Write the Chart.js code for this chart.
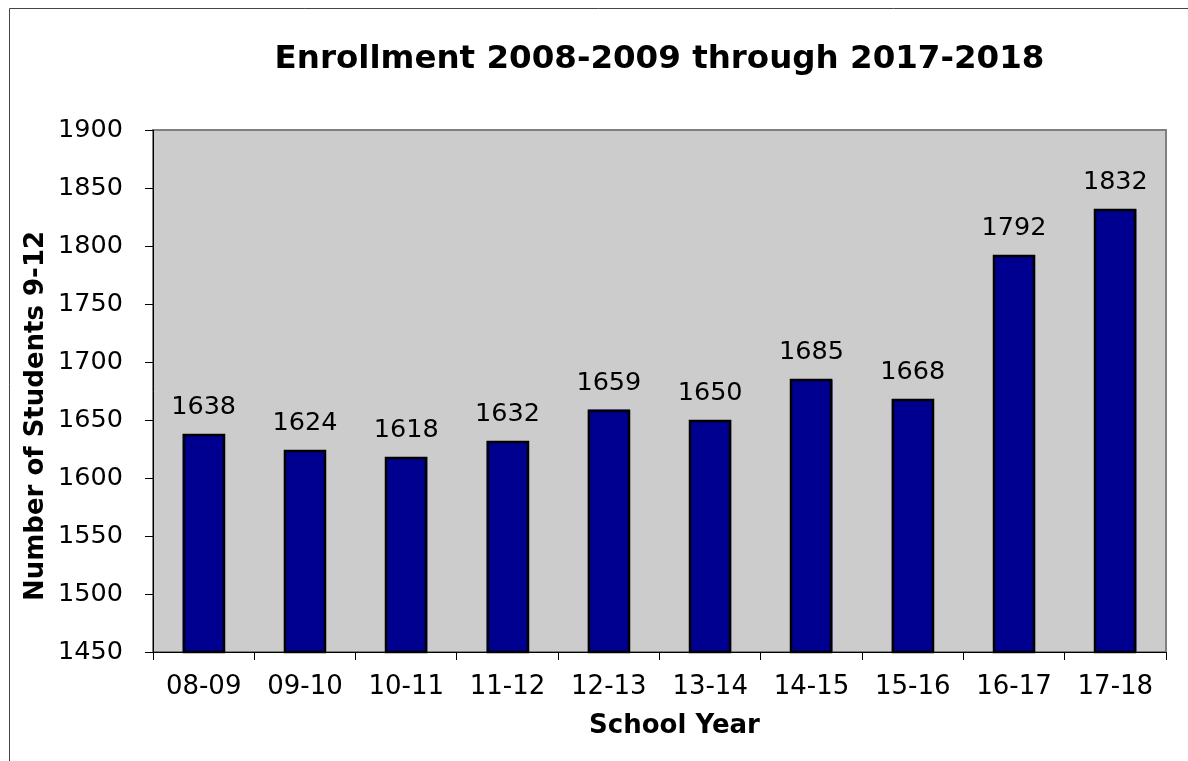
<!DOCTYPE html>
<html>
<head>
<meta charset="utf-8">
<script src="https://cdn.jsdelivr.net/npm/chart.js@4/dist/chart.umd.min.js"></script>
<style>
  body { margin: 0; background: #fff; }
  canvas { display: block; }
</style>
</head>
<body>
<canvas id="enrollChart" width="1188" height="761"></canvas>
<script>
// ================================
// DATA
// ================================
const schoolYears = ["08-09", "09-10", "10-11", "11-12", "12-13", "13-14", "14-15", "15-16", "16-17", "17-18"];
const enrollment = [1638, 1624, 1618, 1632, 1659, 1650, 1685, 1668, 1792, 1832];
const yTicks = [1450, 1500, 1550, 1600, 1650, 1700, 1750, 1800, 1850, 1900];
const xTitle = "School Year";
const yTitle = "Number of Students 9-12";

const FONT = "'DejaVu Sans', Verdana, sans-serif";

// ================================
// PLOT AREA + FRAME
// ================================
const plotArea = {
  id: "plotArea",
  beforeDraw(chart) {
    const ctx = chart.ctx;
    const a = chart.chartArea;
    ctx.save();
    // outer frame (only left/top visible)
    ctx.strokeStyle = "#444";
    ctx.lineWidth = 1;
    ctx.beginPath();
    ctx.moveTo(9.5, chart.height);
    ctx.lineTo(9.5, 8.5);
    ctx.lineTo(chart.width, 8.5);
    ctx.stroke();
    // grey plot background
    ctx.fillStyle = "#cccccc";
    ctx.fillRect(a.left, a.top, a.right - a.left, a.bottom - a.top);
    ctx.strokeStyle = "#808080";
    ctx.lineWidth = 2;
    ctx.strokeRect(a.left, a.top, a.right - a.left, a.bottom - a.top);
    ctx.restore();
  }
};

// ================================
// AXIS TITLES (placed like the original)
// ================================
const axisTitles = {
  id: "axisTitles",
  afterDraw(chart) {
    const ctx = chart.ctx;
    const a = chart.chartArea;
    ctx.save();
    ctx.font = "bold 26px " + FONT;
    ctx.fillStyle = "#000";
    ctx.textAlign = "center";
    ctx.textBaseline = "alphabetic";
    ctx.fillText(xTitle, (a.left + a.right) / 2 + 15, a.bottom + 81);
    ctx.translate(43, (a.top + a.bottom) / 2 + 25);
    ctx.rotate(-Math.PI / 2);
    ctx.fillText(yTitle, 0, 0);
    ctx.restore();
  }
};

// ================================
// BAR OUTLINES + VALUE LABELS
// ================================
const valueLabels = {
  id: "valueLabels",
  afterDatasetsDraw(chart) {
    const ctx = chart.ctx;
    const meta = chart.getDatasetMeta(0);
    const bottom = chart.chartArea.bottom;
    ctx.save();
    // crisp black outline round each bar (base is off-axis, so cut at the x axis)
    ctx.strokeStyle = "#000";
    ctx.lineWidth = 2.5;
    meta.data.forEach(bar => {
      const l = Math.round(bar.x - bar.width / 2);
      const r = Math.round(bar.x + bar.width / 2);
      const t = Math.round(bar.y);
      ctx.strokeRect(l + 1, t + 1, r - l - 2, bottom - t - 1);
    });
    ctx.font = "25.5px " + FONT;
    ctx.fillStyle = "#000";
    ctx.textAlign = "center";
    ctx.textBaseline = "alphabetic";
    meta.data.forEach((bar, i) => {
      ctx.fillText(String(enrollment[i]), bar.x, bar.y - 20);
    });
    ctx.restore();
  }
};

new Chart(document.getElementById("enrollChart"), {
  type: "bar",
  data: {
    labels: schoolYears,
    datasets: [{
      data: enrollment,
      backgroundColor: "#000090",
      borderWidth: 0,
      categoryPercentage: 1,
      barPercentage: 0.415
    }]
  },
  options: {
    responsive: false,
    animation: false,
    layout: { padding: { left: 0, right: 22, top: 0, bottom: 0 } },
    plugins: {
      legend: { display: false },
      tooltip: { enabled: false },
      title: {
        display: true,
        fullSize: false,
        text: "Enrollment 2008-2009 through 2017-2018",
        color: "#000",
        font: { family: FONT, size: 32.5, weight: "bold" },
        padding: { top: 40, bottom: 51 }
      }
    },
    scales: {
      x: {
        grid: { drawOnChartArea: false, drawTicks: true, tickLength: 8, color: "#000", offset: true },
        border: { display: true, color: "#000", width: 1 },
        ticks: { color: "#000", font: { family: FONT, size: 26 }, padding: 12, maxRotation: 0 },
        title: { display: false },
        afterFit(scale) { scale.height = 109; }
      },
      y: {
        min: 1450,
        max: 1900,
        afterBuildTicks(scale) { scale.ticks = yTicks.map(v => ({ value: v })); },
        grid: { drawOnChartArea: false, drawTicks: true, tickLength: 8, color: "#000" },
        border: { display: true, color: "#000", width: 1 },
        ticks: {
          color: "#000",
          font: { family: FONT, size: 25.5 },
          padding: 22,
          callback: v => String(v)
        },
        title: { display: false },
        afterFit(scale) { scale.width = 153; }
      }
    }
  },
  plugins: [plotArea, axisTitles, valueLabels]
});
</script>
</body>
</html>
